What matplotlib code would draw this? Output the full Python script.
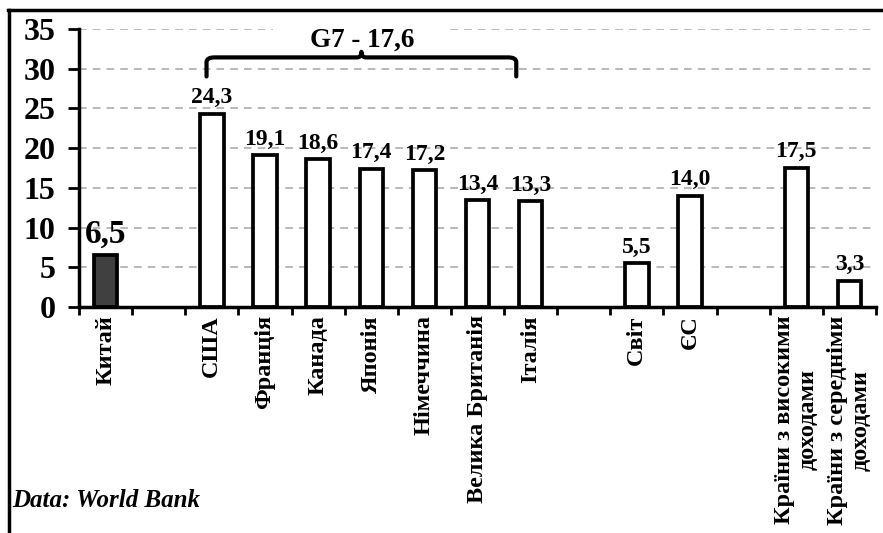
"""Bar chart: value by country / group, World Bank data, G7 bracket."""
import matplotlib.pyplot as plt
import numpy as np
from matplotlib.lines import Line2D
from matplotlib.patches import PathPatch, Rectangle
from matplotlib.path import Path

plt.rcParams["font.family"] = ["Liberation Serif", "DejaVu Serif"]
plt.rcParams["font.weight"] = "bold"

# empty strings / None are spacer slots between groups
labels = ["Китай", "", "США", "Франція", "Канада", "Японія", "Німеччина",
          "Велика Британія", "Італія", "", "Світ", "ЄС", "",
          "Країни з високими\nдоходами", "Країни з середніми\nдоходами"]
values = [6.5, None, 24.3, 19.1, 18.6, 17.4, 17.2, 13.4, 13.3, None,
          5.5, 14.0, None, 17.5, 3.3]
value_text = ["6,5", "", "24,3", "19,1", "18,6", "17,4", "17,2", "13,4",
              "13,3", "", "5,5", "14,0", "", "17,5", "3,3"]
g7_first, g7_last = 2, 8
g7_label = "G7 - 17,6"
source = "Data: World Bank"


def main():
    fig = plt.figure(figsize=(8.83, 5.33), dpi=100)
    ax = fig.add_axes([0.0895, 0.424, 0.9025, 0.522])

    x = np.arange(len(labels))
    for i, v in enumerate(values):
        if v is None:
            continue
        face = "#404040" if i == 0 else "white"
        ax.bar(x[i], v, width=0.44, color=face, edgecolor="black",
               linewidth=2.7, zorder=3)
        size = 24 if i == 0 else 17
        ax.annotate(value_text[i], (x[i], v), xytext=(0, 4),
                    textcoords="offset points", ha="center", va="bottom",
                    fontsize=size, fontweight="bold", zorder=4)

    ax.set_xlim(-0.5, len(labels) - 0.5)
    ax.set_ylim(0, 35)
    ax.set_yticks(np.arange(0, 36, 5))
    ax.tick_params(axis="y", labelsize=23, length=8, width=2, pad=9,
                   direction="out")
    for lab in ax.get_yticklabels():
        lab.set_fontweight("bold")

    # boundary ticks, labels centred on the bars
    ax.set_xticks(np.arange(-0.5, len(labels), 1.0))
    ax.set_xticklabels([])
    ax.tick_params(axis="x", which="major", length=6, width=2,
                   direction="out")
    ax.set_xticks(x, minor=True)
    ax.set_xticklabels(labels, minor=True, rotation=90, fontsize=17.5,
                       fontweight="bold", ha="center", va="top",
                       linespacing=1.15)
    ax.tick_params(axis="x", which="minor", length=0, pad=6)

    for y in range(5, 36, 5):
        ax.axhline(y, color="#a6a6a6", lw=1.1, ls=(0, (5, 4)), zorder=1)

    for side in ("top", "right"):
        ax.spines[side].set_visible(False)
    for side in ("left", "bottom"):
        ax.spines[side].set_linewidth(2.5)
        ax.spines[side].set_zorder(5)

    # curly bracket over the G7 bars
    xl, xr = g7_first - 0.1, g7_last - 0.27
    xm = (xl + xr) / 2
    yb, yt, yn, r = 29.0, 31.4, 32.1, 0.15
    verts = [(xl, yb), (xl, yt - 0.6), (xl, yt), (xl + r, yt),
             (xm - 0.08, yt), (xm, yt), (xm, yn), (xm, yt), (xm + 0.08, yt),
             (xr - r, yt), (xr, yt), (xr, yt - 0.6), (xr, yb)]
    codes = [Path.MOVETO, Path.LINETO, Path.CURVE3, Path.CURVE3,
             Path.LINETO, Path.CURVE3, Path.CURVE3, Path.CURVE3, Path.CURVE3,
             Path.LINETO, Path.CURVE3, Path.CURVE3, Path.LINETO]
    ax.add_patch(PathPatch(Path(verts, codes), fill=False, lw=3,
                           edgecolor="black", capstyle="round",
                           joinstyle="round", clip_on=False, zorder=6))
    # white area behind the group label interrupts the top gridline
    ax.add_patch(Rectangle((xm - 1.66, 32.6), 3.32, 3.2, facecolor="white",
                           edgecolor="none", clip_on=False, zorder=2))
    ax.text(xm + 0.02, 33.6, g7_label, ha="center", va="center",
            fontsize=19.5, fontweight="bold", zorder=4)

    fig.text(0.014, 0.048, source, fontsize=18, fontweight="bold",
             style="italic", ha="left", va="baseline")

    # outer frame
    fig.add_artist(Line2D([0.009, 1.0], [0.981, 0.981], color="black",
                          lw=2.5, transform=fig.transFigure))
    fig.add_artist(Line2D([0.010, 0.010], [0.0, 0.981], color="black",
                          lw=2.5, transform=fig.transFigure))

    fig.savefig("out.png", dpi=100)


if __name__ == "__main__":
    main()
